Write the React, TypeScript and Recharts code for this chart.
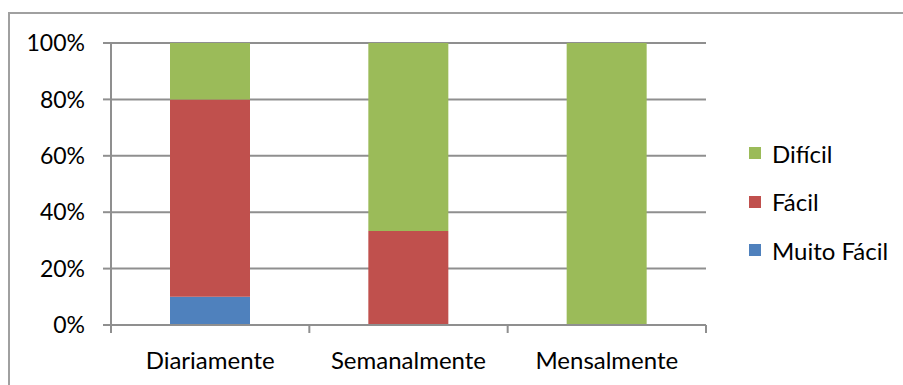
import React from "react";
import {
  BarChart,
  Bar,
  XAxis,
  YAxis,
  CartesianGrid,
  Legend,
} from "recharts";

const categories = ["Diariamente", "Semanalmente", "Mensalmente"];
const muitoFacil = [10, 0, 0];
const facil = [70, 33.3, 0];
const dificil = [20, 66.7, 100];
const yTicks = [0, 0.2, 0.4, 0.6, 0.8, 1];
const legendOrder = ["Difícil", "Fácil", "Muito Fácil"];

const data = categories.map((name, i) => ({
  name,
  muitoFacil: muitoFacil[i],
  facil: facil[i],
  dificil: dificil[i],
}));

const FONT = "Lato, 'Open Sans', sans-serif";
const AXIS = "#8f8f8f";
const W = 903;
const H = 385;
const LEFT = 111;
const RIGHT = 197;
const BAND = (W - LEFT - RIGHT) / categories.length;

function CategoryTick(props: any) {
  const { x, y, payload, index } = props;
  const half = BAND / 2;
  return (
    <g>
      <line x1={x - half} x2={x - half} y1={y} y2={y + 8} stroke={AXIS} strokeWidth={2} />
      {index === categories.length - 1 && (
        <line x1={x + half} x2={x + half} y1={y} y2={y + 8} stroke={AXIS} strokeWidth={2} />
      )}
      <text
        x={x}
        y={y + 34}
        textAnchor="middle"
        dominantBaseline="central"
        fill="#000"
        fontSize={24}
        fontFamily={FONT}
      >
        {payload.value}
      </text>
    </g>
  );
}

function LegendBox(props: any) {
  const items = [...(props.payload || [])].sort(
    (a: any, b: any) => legendOrder.indexOf(a.value) - legendOrder.indexOf(b.value)
  );
  return (
    <div style={{ fontFamily: FONT, fontSize: 24, color: "#000" }}>
      {items.map((it: any) => (
        <div
          key={it.value}
          style={{ height: 48.5, display: "flex", alignItems: "center" }}
        >
          <span
            style={{
              width: 12,
              height: 12,
              background: it.color,
              display: "inline-block",
              marginRight: 11,
            }}
          />
          <span>{it.value}</span>
        </div>
      ))}
    </div>
  );
}

export default function App() {
  return (
    <div
      style={{
        position: "fixed",
        left: 0,
        top: 0,
        width: W,
        height: H,
        overflow: "hidden",
        background: "#fff",
      }}
    >
      <div
        style={{
          position: "absolute",
          left: 8,
          top: 12,
          width: 1200,
          height: 800,
          border: "2px solid #a0a0a0",
        }}
      />
      <div style={{ position: "absolute", left: 0, top: 0 }}>
        <BarChart
          width={W}
          height={H}
          data={data}
          stackOffset="expand"
          barSize={80}
          margin={{ top: 43, right: RIGHT, left: 0, bottom: 0 }}
        >
          <CartesianGrid vertical={false} stroke={AXIS} strokeWidth={2} />
          <XAxis
            dataKey="name"
            tickLine={false}
            tickSize={0}
            tickMargin={0}
            axisLine={{ stroke: AXIS, strokeWidth: 2 }}
            tick={<CategoryTick />}
            interval={0}
            height={60}
          />
          <YAxis
            width={LEFT}
            domain={[0, 1]}
            ticks={yTicks}
            tickFormatter={(v: number) => `${Math.round(v * 100)}%`}
            tickSize={8}
            tickMargin={18}
            axisLine={{ stroke: AXIS, strokeWidth: 2 }}
            tickLine={{ stroke: AXIS, strokeWidth: 2 }}
            tick={{ fill: "#000", fontSize: 23, fontFamily: FONT }}
          />
          <Legend
            layout="horizontal"
            align="center"
            verticalAlign="middle"
            content={<LegendBox />}
            wrapperStyle={{ left: 749, top: 129, width: 150 }}
          />
          <Bar dataKey="muitoFacil" name="Muito Fácil" stackId="a" fill="#4F81BD" isAnimationActive={false} />
          <Bar dataKey="facil" name="Fácil" stackId="a" fill="#C0504D" isAnimationActive={false} />
          <Bar dataKey="dificil" name="Difícil" stackId="a" fill="#9BBB59" isAnimationActive={false} />
        </BarChart>
      </div>
    </div>
  );
}
